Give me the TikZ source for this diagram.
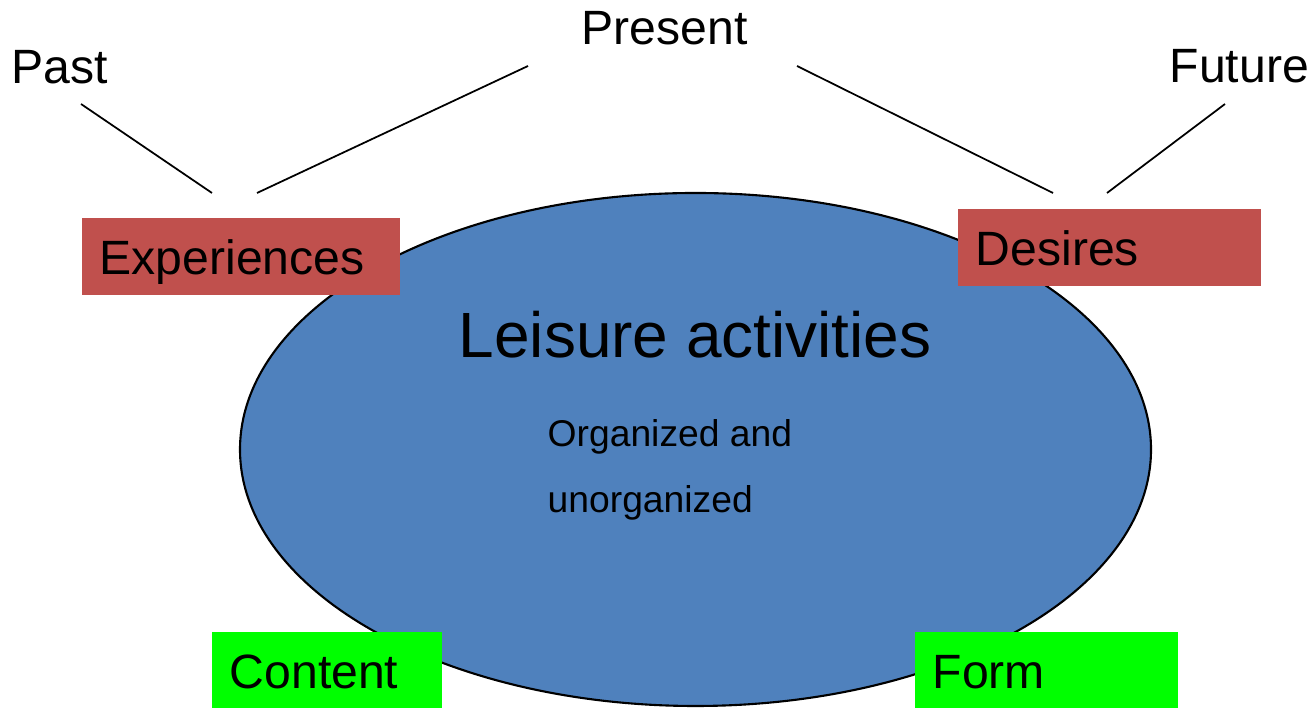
\documentclass[tikz,border=0pt]{standalone}
\usepackage{fontspec}
\setmainfont{Liberation Sans}
\usetikzlibrary{shapes.geometric}
\definecolor{leisureblue}{HTML}{4F81BD}
\definecolor{timered}{HTML}{C0504D}
\definecolor{aspectgreen}{HTML}{00FF00}
\tikzset{
    timetext/.style={inner sep=0, anchor=base west, font=\fontsize{13.7}{16}\selectfont},
    tagbox/.style={rectangle, inner xsep=.18cm, inner ysep=0, text height=.565cm, text depth=.2cm, align=left, anchor=base west, font=\fontsize{13.7}{16}\selectfont},
    redbox/.style={tagbox, fill=timered},
    greenbox/.style={tagbox, fill=aspectgreen},
    link/.style={line width=.5pt}
}

\begin{document}
\begin{tikzpicture}
        \useasboundingbox (0,0) rectangle (13.14,7.08);

        \node (leisure) [ellipse, draw, line width=.6pt, fill=leisureblue, inner sep=0, minimum width=9.11cm, minimum height=5.13cm] at (6.955,2.585) {};
        \node (title) [inner sep=0, anchor=base west, font=\fontsize{18.2}{22}\selectfont] at (4.58,3.50) {Leisure activities};
        \node (kind) [inner sep=0, anchor=base west, align=left, font=\fontsize{10.6}{18.8}\selectfont] at (5.47,1.95) {Organized and\\unorganized};

        \node (exp) [redbox, text width=2.82cm] at (0.81,4.33) {Experiences};
        \node (des) [redbox, text width=2.67cm] at (9.57,4.42) {Desires};
        \node (con) [greenbox, text width=1.94cm] at (2.11,0.19) {Content};
        \node (frm) [greenbox, text width=2.27cm] at (9.14,0.19) {Form};

        \node (past) [timetext] at (0.11,6.24) {Past};
        \node (pres) [timetext] at (5.81,6.63) {Present};
        \node (fut) [timetext] at (11.69,6.25) {Future};

        \coordinate (pasttop) at (0.81,6.04);
        \coordinate (pastend) at (2.12,5.15);
        \coordinate (presleft) at (5.28,6.42);
        \coordinate (presexp) at (2.57,5.15);
        \coordinate (presright) at (7.97,6.42);
        \coordinate (presdes) at (10.53,5.15);
        \coordinate (futtop) at (12.25,6.04);
        \coordinate (futend) at (11.07,5.15);

        \draw[link]
            (pasttop) -- (pastend)
            (presleft) -- (presexp)
            (presright) -- (presdes)
            (futtop) -- (futend)
            ;
    \end{tikzpicture}
\end{document}
